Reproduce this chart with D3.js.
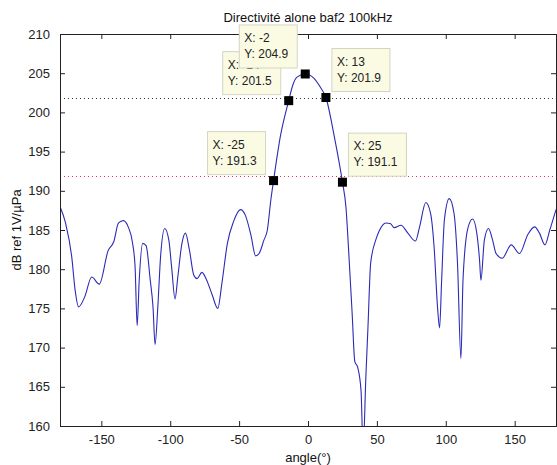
<!DOCTYPE html>
<html>
<head>
<meta charset="utf-8">
<script src="https://cdn.jsdelivr.net/npm/d3@7"></script>
<style>
  body { margin: 0; background: #ffffff; }
  text { font-family: "Liberation Sans", Arial, sans-serif; }
</style>
</head>
<body>
<div id="chart"></div>
<script>
// directivity curve
var angles = [-180, -176, -171.5, -169, -166.5, -162, -157, -151.5, -145, -141, -137.5, -134, -130.5, -127.5,
    -125.5, -124, -122.5, -120, -117.5, -114.5, -112.5, -111, -109, -107, -104, -101, -99, -96.5, -94.5,
    -91.5, -89, -86, -83, -80.5, -77, -73.5, -69.5, -65.5, -62.5, -58.5, -54, -49, -45.5, -41.5, -38,
    -35.5, -32, -29.5, -27, -25, -20, -14, -11, -8, -2, 4, 9, 13, 19, 25, 27.5, 30, 32, 34, 36, 38.5, 40,
    42, 43.5, 45.5, 49.5, 52, 56.5, 60, 62.5, 67.5, 72.5, 78, 81, 85.5, 89, 91.5, 94, 95.5, 97, 99, 102.5,
    106, 108.5, 111, 112.5, 116, 119.5, 122.5, 124.5, 125.5, 128, 131, 134, 136.5, 141, 147.5, 153.5,
    159.5, 164.5, 168, 172, 175.5, 180];
var levels = [188.0, 185.9, 181.6, 177.3, 175.2, 176.5, 179.0, 178.1, 182.4, 183.5, 185.9, 186.2, 185.4, 183.5,
    180.3, 172.8, 178.6, 183.3, 183.0, 178.6, 175.2, 170.4, 175.2, 181.6, 185.2, 183.7, 180.3, 176.2, 179.0,
    183.3, 184.6, 182.4, 179.3, 178.8, 179.6, 178.6, 176.7, 175.0, 178.2, 183.3, 186.1, 187.6, 186.9, 184.4, 181.7,
    182.0, 183.7, 185.0, 188.8, 191.3, 197.0, 201.5, 203.5, 204.5, 204.9, 204.4, 203.2, 201.9, 197.0, 191.1, 188.0, 180.8, 174.5, 168.2, 167.5, 164.5, 157.0,
    166.3, 172.5, 180.8, 183.9, 185.0, 185.9, 185.8, 185.3, 185.6, 184.6, 183.6, 185.4, 188.5, 187.1, 182.9, 175.2, 172.5, 178.6, 186.3, 189.0,
    187.1, 180.8, 168.6, 178.6, 185.2, 186.4, 184.6, 181.2, 178.6, 183.7, 185.2, 183.7, 182.0, 181.4, 183.1, 182.0,
    184.4, 185.4, 184.6, 183.1, 185.0, 187.6];

// datatips
var tipX = [-14, -2, 13, -25, 25];
var tipY = [201.5, 204.9, 201.9, 191.3, 191.1];

// dotted reference levels
var refLevels = [201.9, 191.9];
var refColors = ["#333333", "#e0304a"];

var xTicks = [-150, -100, -50, 0, 50, 100, 150];
var yTicks = [160, 165, 170, 175, 180, 185, 190, 195, 200, 205, 210];

var svgWidth = 557;
var svgHeight = 465;
var margin = { top: 34, right: 1, bottom: 39, left: 60 };
var width = svgWidth - margin.left - margin.right;
var height = svgHeight - margin.top - margin.bottom;

var svg = d3.select("#chart")
    .append("svg")
    .attr("width", svgWidth)
    .attr("height", svgHeight);

var chartGroup = svg.append("g")
    .attr("transform", `translate(${margin.left}, ${margin.top})`);

var xScale = d3.scaleLinear().domain([-180, 180]).range([0, width]);
var yScale = d3.scaleLinear().domain([160, 210]).range([height, 0]);

chartGroup.append("clipPath")
    .attr("id", "plotclip")
    .append("rect")
    .attr("width", width)
    .attr("height", height);

// reference lines
chartGroup.selectAll(".ref")
    .data(refLevels)
    .enter()
    .append("line")
    .attr("x1", 0)
    .attr("x2", width)
    .attr("y1", d => Math.round(yScale(d)) + 0.5)
    .attr("y2", d => Math.round(yScale(d)) + 0.5)
    .attr("stroke", (d, i) => refColors[i])
    .attr("stroke-width", 1)
    .attr("stroke-dasharray", "1,3");

// curve (smoothed between the read points)
var line = d3.line()
    .curve(d3.curveMonotoneX)
    .x(d => xScale(d[0]))
    .y(d => yScale(d[1]));

chartGroup.append("path")
    .datum(angles.map((a, i) => [a, levels[i]]))
    .attr("clip-path", "url(#plotclip)")
    .attr("d", line)
    .attr("fill", "none")
    .attr("stroke", "#2b2bb5")
    .attr("stroke-width", 1.1);

// axes, ticks inward on all 4 sides
var tickCol = "#222222";
var bottomAxis = d3.axisBottom(xScale).tickValues(xTicks).tickSize(-5).tickPadding(9);
var topAxis = d3.axisTop(xScale).tickValues(xTicks).tickSize(-5).tickFormat("");
var leftAxis = d3.axisLeft(yScale).tickValues(yTicks).tickSize(-5).tickPadding(10);
var rightAxis = d3.axisRight(yScale).tickValues(yTicks).tickSize(-5).tickFormat("");

var gb = chartGroup.append("g").attr("transform", `translate(0, ${height})`).call(bottomAxis);
var gt = chartGroup.append("g").call(topAxis);
var gl = chartGroup.append("g").call(leftAxis);
var gr = chartGroup.append("g").attr("transform", `translate(${width}, 0)`).call(rightAxis);

[gb, gt, gl, gr].forEach(function (g) {
    g.selectAll("path").attr("stroke", tickCol);
    g.selectAll("line").attr("stroke", tickCol);
    g.selectAll("text")
        .attr("fill", "#222222")
        .style("font-family", "'Liberation Sans', Arial, sans-serif")
        .style("font-size", "13px");
});
gb.selectAll("text").text(d => d < 0 ? "-" + Math.abs(d) : d);

// datatips: marker + box
var tips = chartGroup.selectAll(".tip")
    .data(tipX.map((x, i) => ({ x: x, y: tipY[i] })))
    .enter()
    .append("g")
    .attr("class", "tip");

tips.append("rect")
    .attr("x", d => d.x < 0 ? xScale(d.x) - 66 : xScale(d.x) + 6)
    .attr("y", d => yScale(d.y) - 49)
    .attr("width", 58)
    .attr("height", 43)
    .attr("fill", "#fbfbe4")
    .attr("stroke", "#d4d4c4");

tips.append("text")
    .attr("x", d => (d.x < 0 ? xScale(d.x) - 66 : xScale(d.x) + 6) + 5)
    .attr("y", d => yScale(d.y) - 32)
    .attr("font-size", "12px")
    .attr("fill", "#222")
    .text(d => "X: " + d.x);

tips.append("text")
    .attr("x", d => (d.x < 0 ? xScale(d.x) - 66 : xScale(d.x) + 6) + 5)
    .attr("y", d => yScale(d.y) - 16)
    .attr("font-size", "12px")
    .attr("fill", "#222")
    .text(d => "Y: " + d.y.toFixed(1));

tips.append("rect")
    .attr("x", d => xScale(d.x) - 4.5)
    .attr("y", d => yScale(d.y) - 4.5)
    .attr("width", 9)
    .attr("height", 9)
    .attr("fill", "#000");

// titles
svg.append("text")
    .attr("x", margin.left + width / 2)
    .attr("y", 22)
    .attr("text-anchor", "middle")
    .attr("font-size", "13px")
    .attr("fill", "#111")
    .text("Directivité alone baf2 100kHz");

svg.append("text")
    .attr("x", margin.left + width / 2)
    .attr("y", 462)
    .attr("text-anchor", "middle")
    .attr("font-size", "13px")
    .attr("fill", "#111")
    .text("angle(°)");

svg.append("text")
    .attr("transform", `translate(21, ${margin.top + height / 2}) rotate(-90)`)
    .attr("text-anchor", "middle")
    .attr("font-size", "13px")
    .attr("fill", "#111")
    .text("dB ref 1V/µPa");
</script>
</body>
</html>
